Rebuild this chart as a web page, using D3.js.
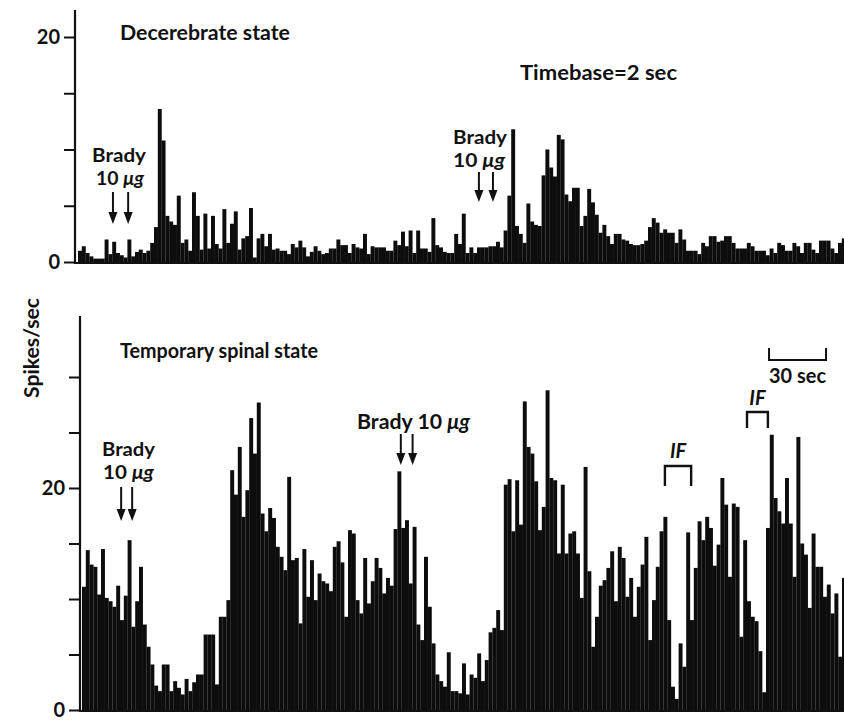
<!DOCTYPE html>
<html>
<head>
<meta charset="utf-8">
<script src="https://cdn.jsdelivr.net/npm/d3@7"></script>
<style>
  body { margin: 0; background: #fff; }
  svg text { font-family: Lato, "DejaVu Sans", sans-serif; font-weight: 700; fill: #111; }
</style>
</head>
<body>
<div class="container"></div>
<script>
// spikes/sec per 2 sec bin
var topValues = [
  1.0, 1.4, 0.8, 0.5, 0.3, 0.3, 0.3, 2.0, 0.7, 1.8,
  0.8, 0.6, 0.4, 2.0, 0.5, 0.9, 1.1, 0.8, 1.0, 1.7,
  3.1, 13.6, 10.8, 4.1, 3.6, 3.3, 5.9, 1.7, 2.0, 1.0,
  6.2, 4.1, 1.1, 4.3, 1.2, 4.1, 1.6, 1.2, 4.7, 1.7,
  3.4, 4.5, 1.1, 2.1, 2.3, 4.8, 0.4, 2.1, 2.5, 1.4,
  2.5, 1.1, 1.2, 1.0, 1.0, 0.7, 1.6, 1.3, 1.9, 1.3,
  0.5, 0.9, 1.4, 1.0, 0.7, 0.8, 1.2, 1.2, 2.0, 1.5,
  1.5, 0.8, 1.6, 1.3, 1.2, 2.5, 0.7, 1.4, 1.3, 1.3,
  1.3, 1.0, 1.0, 1.9, 1.5, 2.7, 1.4, 2.8, 0.8, 2.8,
  1.2, 1.2, 0.9, 3.9, 1.5, 1.3, 0.9, 0.8, 0.8, 2.5,
  1.6, 4.3, 0.8, 1.3, 0.8, 1.3, 1.3, 1.3, 1.4, 1.4,
  1.8, 1.3, 2.8, 5.9, 11.8, 3.2, 2.5, 1.7, 5.2, 3.6,
  3.3, 3.2, 7.7, 10.0, 8.4, 7.6, 11.3, 10.9, 6.0, 5.4,
  6.6, 6.6, 3.2, 4.1, 6.5, 5.3, 4.2, 2.6, 3.3, 2.3,
  1.6, 2.5, 2.5, 2.0, 1.9, 1.6, 1.5, 1.5, 1.6, 1.9,
  3.1, 3.9, 3.5, 2.6, 2.9, 2.6, 2.6, 1.7, 2.9, 2.0,
  1.0, 1.0, 1.0, 0.7, 1.7, 1.4, 2.3, 2.3, 1.8, 1.9,
  2.3, 2.3, 1.7, 1.2, 1.2, 1.2, 1.7, 1.4, 1.0, 1.0,
  1.0, 0.6, 1.2, 0.8, 1.7, 1.5, 1.0, 1.0, 1.7, 1.4,
  0.8, 1.7, 1.7, 1.1, 0.8, 1.9, 1.9, 1.9, 1.2, 0.8,
  1.7, 2.1
];
var bottomValues = [
  11.1, 14.4, 13.1, 12.9, 10.4, 14.5, 10.1, 9.8, 9.3, 11.2,
  8.1, 10.3, 15.3, 7.5, 9.8, 12.9, 7.7, 5.7, 4.1, 2.2,
  1.7, 4.1, 4.1, 1.7, 2.6, 2.0, 1.4, 2.8, 1.7, 2.5,
  3.2, 3.2, 6.8, 6.8, 6.8, 2.3, 8.4, 8.4, 9.9, 21.6,
  19.4, 23.7, 17.4, 19.8, 26.3, 23.1, 27.7, 17.7, 16.1, 18.2,
  17.3, 14.7, 13.8, 12.6, 21.0, 13.5, 13.7, 7.8, 14.5, 10.2,
  13.5, 9.9, 12.3, 11.6, 11.4, 10.7, 14.7, 15.2, 13.3, 8.4,
  16.2, 15.9, 9.9, 8.7, 13.7, 9.6, 11.6, 13.7, 12.8, 10.5,
  11.9, 11.2, 16.3, 21.5, 16.4, 17.1, 11.4, 16.5, 7.7, 6.3,
  13.8, 9.3, 6.0, 3.2, 2.6, 2.1, 5.2, 1.7, 1.7, 1.5,
  4.2, 1.4, 3.2, 2.9, 5.1, 2.6, 4.5, 7.0, 7.4, 9.0,
  7.2, 20.3, 20.8, 16.1, 20.7, 16.7, 27.8, 23.7, 23.1, 20.6,
  16.2, 18.3, 28.8, 20.9, 20.7, 14.1, 20.3, 14.1, 15.9, 16.1,
  14.1, 10.1, 21.9, 12.5, 5.7, 8.4, 11.2, 11.7, 12.8, 14.3,
  9.8, 14.7, 13.7, 10.2, 11.9, 8.4, 11.1, 13.1, 15.6, 6.3,
  9.9, 12.9, 16.1, 17.4, 8.1, 2.1, 1.0, 6.0, 3.9, 16.0,
  8.1, 12.8, 17.0, 15.3, 17.4, 16.4, 13.0, 14.9, 20.9, 18.5,
  12.0, 18.6, 18.3, 6.6, 15.3, 9.8, 8.4, 8.0, 5.3, 1.6,
  16.4, 24.8, 19.1, 17.9, 16.8, 20.9, 16.8, 12.0, 24.6, 15.0,
  14.0, 9.2, 15.9, 12.9, 12.9, 10.2, 11.3, 8.7, 10.5, 4.8,
  11.9, 10.4
];
var topTicks = [0, 5, 10, 15, 20];
var bottomTicks = [0, 5, 10, 15, 20, 25, 30];
var tickLabels = { 0: '0', 20: '20' };
// bradykinin injections and IF periods, in bin units
var topBradyBins = [[9.2, 13.2], [105.5, 109.2]];
var bottomBradyBins = [[10.3, 13.2], [83.9, 87.0]];
var ifBins = [[153.4, 160.3], [175.0, 180.5]];
var scaleBarBins = [180.8, 195.8]; // 30 sec = 15 bins

var W = 844, H = 720, binW = 3.8;

var svg = d3.select('.container').append('svg')
  .attr('width', W)
  .attr('height', H);

// panel setup
var panels = [
  { values: topValues, x0: 78, axisX: 75, y: d3.scaleLinear().domain([0, 20]).range([262, 37]),
    axisTop: 10, ticks: topTicks },
  { values: bottomValues, x0: 82, axisX: 80, y: d3.scaleLinear().domain([0, 20]).range([710, 488]),
    axisTop: 316, ticks: bottomTicks }
];

panels.forEach(function(p){
  p.x = d3.scaleLinear().domain([0, 1]).range([p.x0, p.x0 + binW]);
  var g = svg.append('g');

  g.selectAll('rect')
    .data(p.values)
    .enter()
    .append('rect')
    .attr('x', function(d, i){ return p.x(i); })
    .attr('y', function(d){ return p.y(d); })
    .attr('width', binW + 0.15)
    .attr('height', function(d){ return p.y(0) - p.y(d); })
    .style('fill', '#0d0d0d');

  // baseline
  g.append('line')
    .attr('x1', p.axisX).attr('x2', W)
    .attr('y1', p.y(0) + 1).attr('y2', p.y(0) + 1)
    .style('stroke', '#111').style('stroke-width', 2);

  // y axis via d3.axisLeft, restyled
  var ax = g.append('g')
    .attr('transform', 'translate(' + p.axisX + ',0)')
    .call(d3.axisLeft(p.y).tickValues(p.ticks).tickSize(11).tickPadding(4)
      .tickFormat(function(d){ return tickLabels[d] || ''; }));
  ax.select('.domain').remove();
  ax.selectAll('.tick line').style('stroke', '#111').style('stroke-width', 2);
  ax.selectAll('.tick text')
    .style('font-family', 'Lato, sans-serif')
    .style('font-weight', 700)
    .style('font-size', '20px')
    .style('fill', '#111');
  g.append('line')
    .attr('x1', p.axisX).attr('x2', p.axisX)
    .attr('y1', p.axisTop).attr('y2', p.y(0) + 2)
    .style('stroke', '#111').style('stroke-width', 2.2);
});

var topP = panels[0], botP = panels[1];

function label(x, y, txt, len, size){
  var t = svg.append('text').attr('x', x).attr('y', y)
    .style('font-size', (size || 20) + 'px').text(txt);
  if (len) t.attr('textLength', len).attr('lengthAdjust', 'spacingAndGlyphs');
  return t;
}
function doseLabel(x, y, len){
  var t = svg.append('text').attr('x', x).attr('y', y).style('font-size', '18px')
    .attr('textLength', len).attr('lengthAdjust', 'spacingAndGlyphs');
  t.append('tspan').text('10 ');
  t.append('tspan').style('font-style', 'italic').text('\u03bcg');
  return t;
}
function arrow(x, y1, y2){
  svg.append('line')
    .attr('x1', x).attr('x2', x).attr('y1', y1).attr('y2', y2 - 8)
    .style('stroke', '#111').style('stroke-width', 2);
  svg.append('path')
    .attr('d', 'M' + (x - 4.5) + ',' + (y2 - 12) + 'L' + (x + 4.5) + ',' + (y2 - 12) + 'L' + x + ',' + y2 + 'Z')
    .style('fill', '#111');
}

// top panel annotations
label(120, 40, 'Decerebrate state', 170);
label(520, 80, 'Timebase=2 sec', 157);
label(92, 162, 'Brady', 54, 18);
doseLabel(96, 185, 48);
topBradyBins[0].forEach(function(b){ arrow(topP.x(b), 192, 224); });
label(453, 144, 'Brady', 54, 18);
doseLabel(453, 167, 52);
topBradyBins[1].forEach(function(b){ arrow(topP.x(b), 172, 202); });

// bottom panel annotations
svg.append('text')
  .attr('transform', 'translate(39,348) rotate(-90)')
  .attr('text-anchor', 'middle')
  .attr('textLength', 100).attr('lengthAdjust', 'spacingAndGlyphs')
  .style('font-size', '20px')
  .text('Spikes/sec');
label(120, 358, 'Temporary spinal state', 198);
label(102, 456, 'Brady', 53, 18);
doseLabel(103, 479, 51);
bottomBradyBins[0].forEach(function(b){ arrow(botP.x(b), 487, 521); });
var bt = label(357, 429, 'Brady 10 ', null);
bt.append('tspan').style('font-style', 'italic').text('\u03bcg');
bt.attr('textLength', 113).attr('lengthAdjust', 'spacingAndGlyphs');
bottomBradyBins[1].forEach(function(b){ arrow(botP.x(b), 434, 465); });

// IF brackets
var ifTop = [466, 412], ifBottom = [486, 428], ifText = [459, 406];
ifBins.forEach(function(b, i){
  var xa = botP.x(b[0]), xb = botP.x(b[1]);
  svg.append('path')
    .attr('d', 'M' + xa + ',' + ifBottom[i] + 'V' + ifTop[i] + 'H' + xb + 'V' + ifBottom[i])
    .style('fill', 'none').style('stroke', '#111').style('stroke-width', 2.4);
  svg.append('text').attr('x', (xa + xb) / 2).attr('y', ifText[i] - 1)
    .attr('text-anchor', 'middle')
    .style('font-size', '20px').style('font-style', 'italic')
    .text('IF');
});

// 30 sec scale bar
var sx0 = botP.x(scaleBarBins[0]), sx1 = botP.x(scaleBarBins[1]);
svg.append('path')
  .attr('d', 'M' + sx0 + ',348V360H' + sx1 + 'V348')
  .style('fill', 'none').style('stroke', '#111').style('stroke-width', 2);
label((sx0 + sx1) / 2, 383, '30 sec', 57).attr('text-anchor', 'middle');
</script>
</body>
</html>
